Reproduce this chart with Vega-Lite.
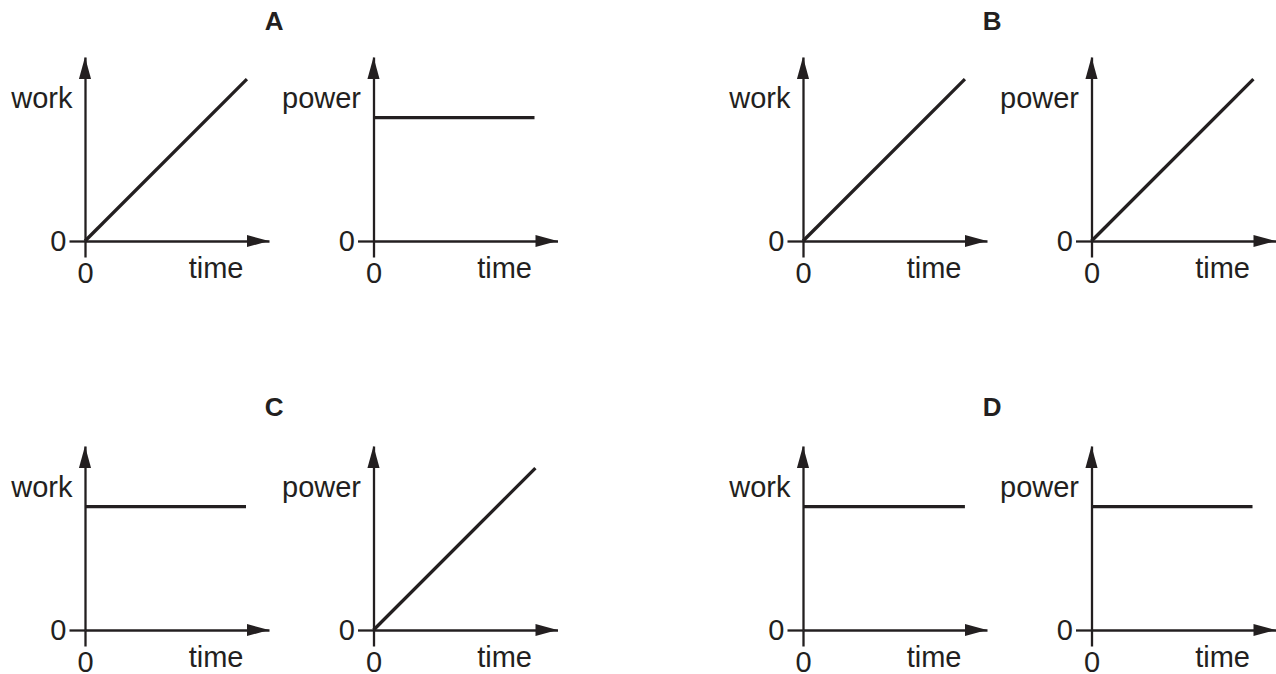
{
  "$schema": "https://vega.github.io/schema/vega-lite/v6.json",
  "background": "white",
  "padding": {"left": 10, "top": 9, "right": 0, "bottom": 0},
  "datasets": {
    "curves": [
      {"panel": "A-work", "t": 0, "v": 0},
      {"panel": "A-work", "t": 8.8, "v": 8.8},
      {"panel": "A-power", "t": 0, "v": 6.7},
      {"panel": "A-power", "t": 8.75, "v": 6.7},
      {"panel": "B-work", "t": 0, "v": 0},
      {"panel": "B-work", "t": 8.8, "v": 8.8},
      {"panel": "B-power", "t": 0, "v": 0},
      {"panel": "B-power", "t": 8.8, "v": 8.8},
      {"panel": "C-work", "t": 0, "v": 6.7},
      {"panel": "C-work", "t": 8.75, "v": 6.7},
      {"panel": "C-power", "t": 0, "v": 0},
      {"panel": "C-power", "t": 8.8, "v": 8.8},
      {"panel": "D-work", "t": 0, "v": 6.7},
      {"panel": "D-work", "t": 8.8, "v": 6.7},
      {"panel": "D-power", "t": 0, "v": 6.7},
      {"panel": "D-power", "t": 8.75, "v": 6.7}
    ],
    "arrows": [
      {"dir": "x", "t": 10, "v": 0},
      {"dir": "y", "t": 0, "v": 10}
    ]
  },
  "config": {
    "view": {"stroke": null},
    "axis": {
      "grid": false,
      "ticks": true,
      "domainColor": "#231f20",
      "domainWidth": 2.3,
      "domainCap": "butt",
      "tickColor": "#231f20",
      "tickWidth": 2.3,
      "tickSize": 16,
      "labelFont": "Liberation Sans",
      "labelFontSize": 29,
      "labelColor": "#231f20",
      "titleFont": "Liberation Sans",
      "titleFontSize": 29,
      "titleFontWeight": "normal",
      "titleColor": "#231f20"
    },
    "axisX": {"labelFlush": false, "labelPadding": 2.5, "titleAlign": "right", "titleBaseline": "alphabetic", "titleX": 158, "titleY": 36},
    "axisY": {"labelPadding": 3, "titleAngle": 0, "titleAlign": "right", "titleBaseline": "alphabetic", "titleX": -13, "titleY": 50}
  },
  "spacing": 106,
  "vconcat": [
    {
      "spacing": 170,
      "hconcat": [
        {
          "title": {"text": "A", "font": "Liberation Sans", "fontSize": 26, "fontWeight": "bold", "color": "#231f20", "anchor": "middle", "frame": "bounds", "dx": -10, "offset": 22},
          "spacing": 12.5,
          "hconcat": [
            {
              "width": 184, "height": 184,
              "encoding": {
                "x": {"field": "t", "type": "quantitative", "title": "time", "scale": {"domain": [0, 10]}, "axis": {"values": [0]}},
                "y": {"field": "v", "type": "quantitative", "title": "work", "scale": {"domain": [0, 10]}, "axis": {"values": [0]}}
              },
              "layer": [
                {"data": {"name": "curves"}, "transform": [{"filter": "datum.panel === 'A-work'"}], "mark": {"type": "line", "color": "#231f20", "strokeWidth": 3.3, "strokeCap": "butt"}},
                {"data": {"name": "arrows"}, "transform": [{"filter": "datum.dir === 'x'"}], "mark": {"type": "point", "shape": "M0,0L-2,-0.55L-2,0.55Z", "size": 484, "filled": true, "opacity": 1, "color": "#231f20", "strokeWidth": 0}},
                {"data": {"name": "arrows"}, "transform": [{"filter": "datum.dir === 'y'"}], "mark": {"type": "point", "shape": "M0,0L-0.55,2L0.55,2Z", "size": 484, "filled": true, "opacity": 1, "color": "#231f20", "strokeWidth": 0}}
              ]
            },
            {
              "width": 184, "height": 184,
              "encoding": {
                "x": {"field": "t", "type": "quantitative", "title": "time", "scale": {"domain": [0, 10]}, "axis": {"values": [0]}},
                "y": {"field": "v", "type": "quantitative", "title": "power", "scale": {"domain": [0, 10]}, "axis": {"values": [0]}}
              },
              "layer": [
                {"data": {"name": "curves"}, "transform": [{"filter": "datum.panel === 'A-power'"}], "mark": {"type": "line", "color": "#231f20", "strokeWidth": 3.3, "strokeCap": "butt"}},
                {"data": {"name": "arrows"}, "transform": [{"filter": "datum.dir === 'x'"}], "mark": {"type": "point", "shape": "M0,0L-2,-0.55L-2,0.55Z", "size": 484, "filled": true, "opacity": 1, "color": "#231f20", "strokeWidth": 0}},
                {"data": {"name": "arrows"}, "transform": [{"filter": "datum.dir === 'y'"}], "mark": {"type": "point", "shape": "M0,0L-0.55,2L0.55,2Z", "size": 484, "filled": true, "opacity": 1, "color": "#231f20", "strokeWidth": 0}}
              ]
            }
          ]
        },
        {
          "title": {"text": "B", "font": "Liberation Sans", "fontSize": 26, "fontWeight": "bold", "color": "#231f20", "anchor": "middle", "frame": "bounds", "dx": -10, "offset": 22},
          "spacing": 12.5,
          "hconcat": [
            {
              "width": 184, "height": 184,
              "encoding": {
                "x": {"field": "t", "type": "quantitative", "title": "time", "scale": {"domain": [0, 10]}, "axis": {"values": [0]}},
                "y": {"field": "v", "type": "quantitative", "title": "work", "scale": {"domain": [0, 10]}, "axis": {"values": [0]}}
              },
              "layer": [
                {"data": {"name": "curves"}, "transform": [{"filter": "datum.panel === 'B-work'"}], "mark": {"type": "line", "color": "#231f20", "strokeWidth": 3.3, "strokeCap": "butt"}},
                {"data": {"name": "arrows"}, "transform": [{"filter": "datum.dir === 'x'"}], "mark": {"type": "point", "shape": "M0,0L-2,-0.55L-2,0.55Z", "size": 484, "filled": true, "opacity": 1, "color": "#231f20", "strokeWidth": 0}},
                {"data": {"name": "arrows"}, "transform": [{"filter": "datum.dir === 'y'"}], "mark": {"type": "point", "shape": "M0,0L-0.55,2L0.55,2Z", "size": 484, "filled": true, "opacity": 1, "color": "#231f20", "strokeWidth": 0}}
              ]
            },
            {
              "width": 184, "height": 184,
              "encoding": {
                "x": {"field": "t", "type": "quantitative", "title": "time", "scale": {"domain": [0, 10]}, "axis": {"values": [0]}},
                "y": {"field": "v", "type": "quantitative", "title": "power", "scale": {"domain": [0, 10]}, "axis": {"values": [0]}}
              },
              "layer": [
                {"data": {"name": "curves"}, "transform": [{"filter": "datum.panel === 'B-power'"}], "mark": {"type": "line", "color": "#231f20", "strokeWidth": 3.3, "strokeCap": "butt"}},
                {"data": {"name": "arrows"}, "transform": [{"filter": "datum.dir === 'x'"}], "mark": {"type": "point", "shape": "M0,0L-2,-0.55L-2,0.55Z", "size": 484, "filled": true, "opacity": 1, "color": "#231f20", "strokeWidth": 0}},
                {"data": {"name": "arrows"}, "transform": [{"filter": "datum.dir === 'y'"}], "mark": {"type": "point", "shape": "M0,0L-0.55,2L0.55,2Z", "size": 484, "filled": true, "opacity": 1, "color": "#231f20", "strokeWidth": 0}}
              ]
            }
          ]
        }
      ]
    },
    {
      "spacing": 170,
      "hconcat": [
        {
          "title": {"text": "C", "font": "Liberation Sans", "fontSize": 26, "fontWeight": "bold", "color": "#231f20", "anchor": "middle", "frame": "bounds", "dx": -10, "offset": 25},
          "spacing": 12.5,
          "hconcat": [
            {
              "width": 184, "height": 184,
              "encoding": {
                "x": {"field": "t", "type": "quantitative", "title": "time", "scale": {"domain": [0, 10]}, "axis": {"values": [0]}},
                "y": {"field": "v", "type": "quantitative", "title": "work", "scale": {"domain": [0, 10]}, "axis": {"values": [0]}}
              },
              "layer": [
                {"data": {"name": "curves"}, "transform": [{"filter": "datum.panel === 'C-work'"}], "mark": {"type": "line", "color": "#231f20", "strokeWidth": 3.3, "strokeCap": "butt"}},
                {"data": {"name": "arrows"}, "transform": [{"filter": "datum.dir === 'x'"}], "mark": {"type": "point", "shape": "M0,0L-2,-0.55L-2,0.55Z", "size": 484, "filled": true, "opacity": 1, "color": "#231f20", "strokeWidth": 0}},
                {"data": {"name": "arrows"}, "transform": [{"filter": "datum.dir === 'y'"}], "mark": {"type": "point", "shape": "M0,0L-0.55,2L0.55,2Z", "size": 484, "filled": true, "opacity": 1, "color": "#231f20", "strokeWidth": 0}}
              ]
            },
            {
              "width": 184, "height": 184,
              "encoding": {
                "x": {"field": "t", "type": "quantitative", "title": "time", "scale": {"domain": [0, 10]}, "axis": {"values": [0]}},
                "y": {"field": "v", "type": "quantitative", "title": "power", "scale": {"domain": [0, 10]}, "axis": {"values": [0]}}
              },
              "layer": [
                {"data": {"name": "curves"}, "transform": [{"filter": "datum.panel === 'C-power'"}], "mark": {"type": "line", "color": "#231f20", "strokeWidth": 3.3, "strokeCap": "butt"}},
                {"data": {"name": "arrows"}, "transform": [{"filter": "datum.dir === 'x'"}], "mark": {"type": "point", "shape": "M0,0L-2,-0.55L-2,0.55Z", "size": 484, "filled": true, "opacity": 1, "color": "#231f20", "strokeWidth": 0}},
                {"data": {"name": "arrows"}, "transform": [{"filter": "datum.dir === 'y'"}], "mark": {"type": "point", "shape": "M0,0L-0.55,2L0.55,2Z", "size": 484, "filled": true, "opacity": 1, "color": "#231f20", "strokeWidth": 0}}
              ]
            }
          ]
        },
        {
          "title": {"text": "D", "font": "Liberation Sans", "fontSize": 26, "fontWeight": "bold", "color": "#231f20", "anchor": "middle", "frame": "bounds", "dx": -10, "offset": 25},
          "spacing": 12.5,
          "hconcat": [
            {
              "width": 184, "height": 184,
              "encoding": {
                "x": {"field": "t", "type": "quantitative", "title": "time", "scale": {"domain": [0, 10]}, "axis": {"values": [0]}},
                "y": {"field": "v", "type": "quantitative", "title": "work", "scale": {"domain": [0, 10]}, "axis": {"values": [0]}}
              },
              "layer": [
                {"data": {"name": "curves"}, "transform": [{"filter": "datum.panel === 'D-work'"}], "mark": {"type": "line", "color": "#231f20", "strokeWidth": 3.3, "strokeCap": "butt"}},
                {"data": {"name": "arrows"}, "transform": [{"filter": "datum.dir === 'x'"}], "mark": {"type": "point", "shape": "M0,0L-2,-0.55L-2,0.55Z", "size": 484, "filled": true, "opacity": 1, "color": "#231f20", "strokeWidth": 0}},
                {"data": {"name": "arrows"}, "transform": [{"filter": "datum.dir === 'y'"}], "mark": {"type": "point", "shape": "M0,0L-0.55,2L0.55,2Z", "size": 484, "filled": true, "opacity": 1, "color": "#231f20", "strokeWidth": 0}}
              ]
            },
            {
              "width": 184, "height": 184,
              "encoding": {
                "x": {"field": "t", "type": "quantitative", "title": "time", "scale": {"domain": [0, 10]}, "axis": {"values": [0]}},
                "y": {"field": "v", "type": "quantitative", "title": "power", "scale": {"domain": [0, 10]}, "axis": {"values": [0]}}
              },
              "layer": [
                {"data": {"name": "curves"}, "transform": [{"filter": "datum.panel === 'D-power'"}], "mark": {"type": "line", "color": "#231f20", "strokeWidth": 3.3, "strokeCap": "butt"}},
                {"data": {"name": "arrows"}, "transform": [{"filter": "datum.dir === 'x'"}], "mark": {"type": "point", "shape": "M0,0L-2,-0.55L-2,0.55Z", "size": 484, "filled": true, "opacity": 1, "color": "#231f20", "strokeWidth": 0}},
                {"data": {"name": "arrows"}, "transform": [{"filter": "datum.dir === 'y'"}], "mark": {"type": "point", "shape": "M0,0L-0.55,2L0.55,2Z", "size": 484, "filled": true, "opacity": 1, "color": "#231f20", "strokeWidth": 0}}
              ]
            }
          ]
        }
      ]
    }
  ]
}
